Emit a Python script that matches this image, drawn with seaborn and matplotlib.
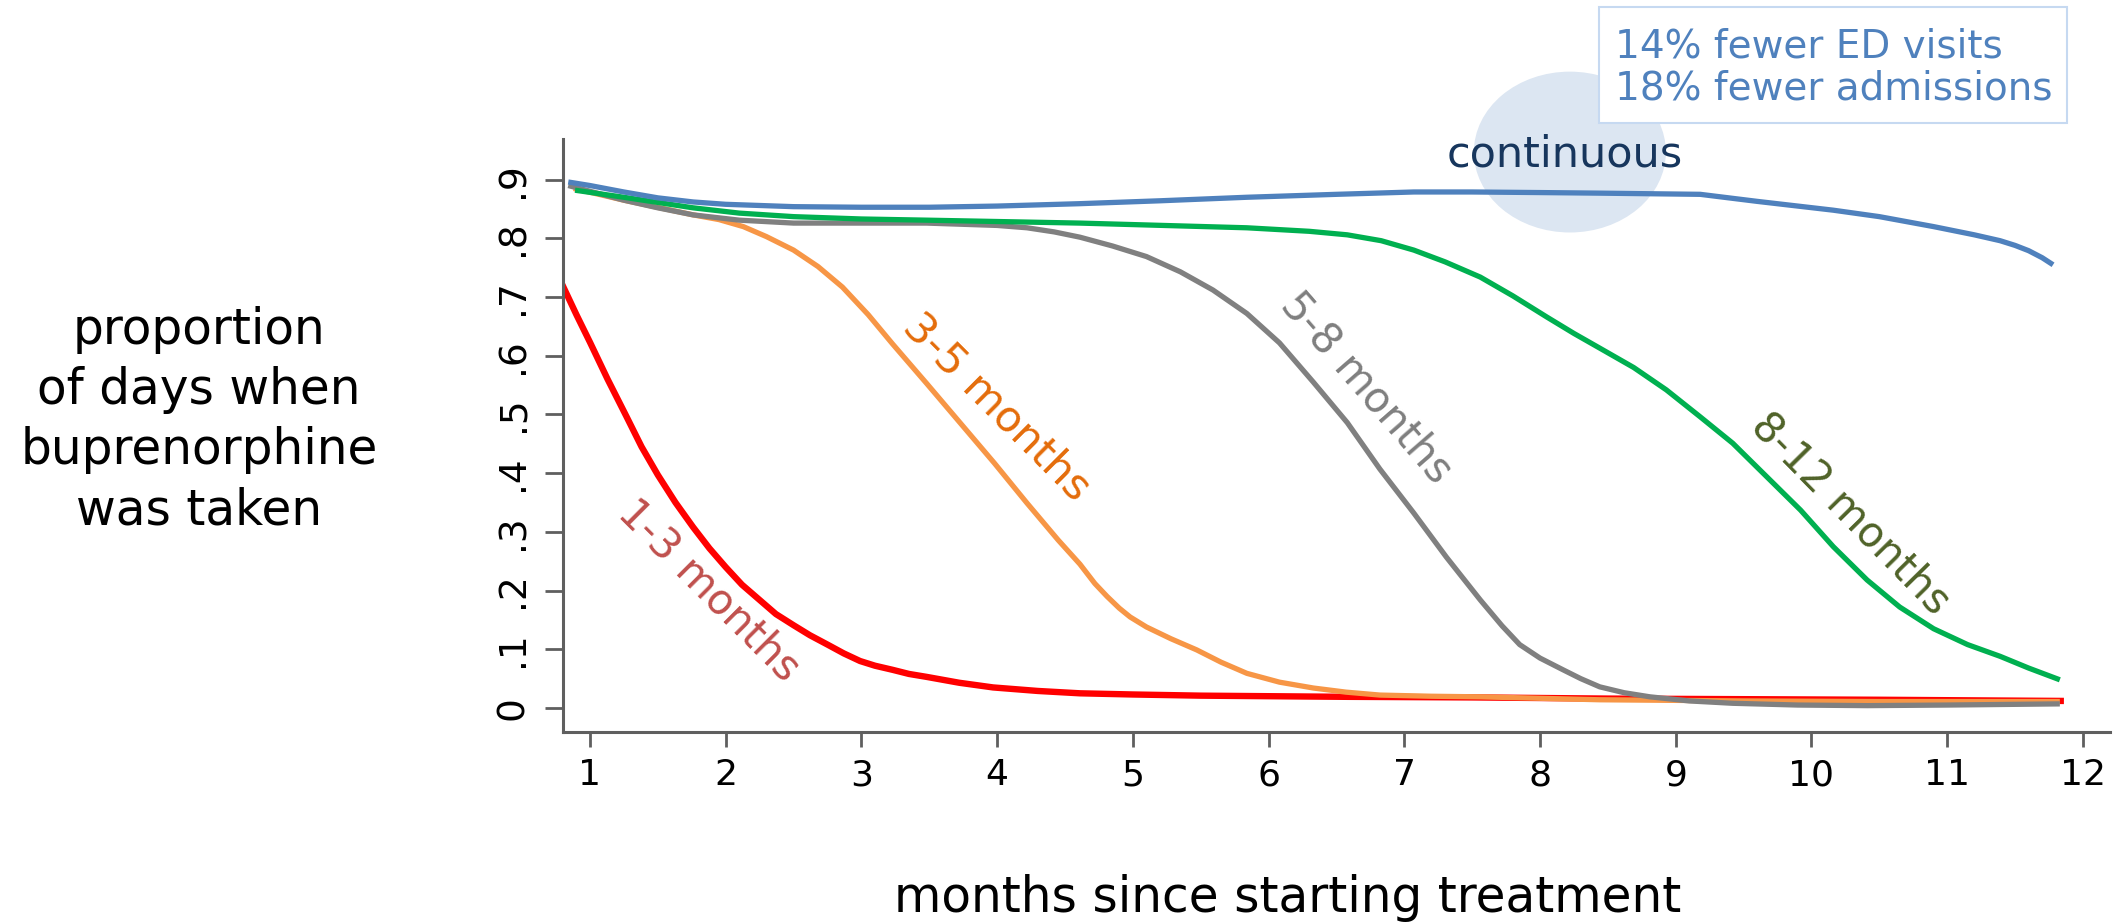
import numpy as np
import pandas as pd
import seaborn as sns
import matplotlib.pyplot as plt
from matplotlib.patches import Ellipse, Rectangle

# values (months since start, proportion of days)
cont_x = [0.84, 1.0, 1.25, 1.5, 1.76, 2.0, 2.5, 3.0, 3.5, 4.0, 4.6, 5.2, 5.84, 6.5, 7.07,
          7.5, 8.0, 8.44, 9.18, 9.6, 10.16, 10.5, 10.9, 11.2, 11.39, 11.5, 11.6, 11.7, 11.78]
cont_y = [0.896, 0.89, 0.879, 0.869, 0.862, 0.858, 0.854, 0.853, 0.853, 0.855, 0.859, 0.864,
          0.87, 0.875, 0.879, 0.879, 0.878, 0.877, 0.875, 0.863, 0.848, 0.837, 0.82, 0.806,
          0.796, 0.788, 0.779, 0.767, 0.755]

m8_12_x = [0.89, 1.25, 1.76, 2.1, 2.5, 3.0, 3.48, 4.61, 5.84, 6.3, 6.58, 6.83, 7.07, 7.3,
           7.56, 7.8, 8.05, 8.25, 8.44, 8.69, 8.93, 9.18, 9.42, 9.67, 9.92, 10.16, 10.41,
           10.65, 10.9, 11.15, 11.39, 11.6, 11.83]
m8_12_y = [0.882, 0.87, 0.852, 0.843, 0.837, 0.833, 0.831, 0.826, 0.818, 0.812, 0.806,
           0.796, 0.78, 0.76, 0.734, 0.702, 0.666, 0.638, 0.613, 0.58, 0.542, 0.496, 0.451,
           0.394, 0.337, 0.275, 0.218, 0.172, 0.135, 0.108, 0.088, 0.068, 0.048]

m5_8_x = [0.84, 1.25, 1.5, 1.76, 2.1, 2.5, 3.48, 4.0, 4.22, 4.42, 4.61, 4.85, 5.10, 5.35,
          5.59, 5.84, 6.08, 6.33, 6.58, 6.82, 7.07, 7.31, 7.56, 7.72, 7.85, 8.0, 8.17, 8.3,
          8.44, 8.62, 8.81, 9.1, 9.42, 9.9, 10.41, 11.0, 11.83]
m5_8_y = [0.89, 0.865, 0.852, 0.84, 0.831, 0.826, 0.826, 0.822, 0.818, 0.811, 0.802, 0.787,
          0.769, 0.743, 0.712, 0.672, 0.622, 0.555, 0.486, 0.407, 0.332, 0.257, 0.184, 0.14,
          0.108, 0.085, 0.065, 0.05, 0.036, 0.026, 0.019, 0.012, 0.008, 0.005, 0.004, 0.005,
          0.007]

m3_5_x = [0.88, 1.25, 1.76, 1.95, 2.13, 2.3, 2.5, 2.68, 2.86, 3.05, 3.23, 3.48, 3.73, 3.98,
          4.22, 4.45, 4.61, 4.72, 4.81, 4.9, 4.98, 5.10, 5.28, 5.47, 5.65, 5.84, 6.08, 6.33,
          6.57, 6.82, 7.2, 7.56, 8.44, 9.5, 10.5, 11.83]
m3_5_y = [0.885, 0.865, 0.84, 0.832, 0.82, 0.803, 0.78, 0.752, 0.717, 0.67, 0.62, 0.553,
          0.485, 0.417, 0.349, 0.286, 0.245, 0.212, 0.19, 0.17, 0.155, 0.138, 0.118, 0.099,
          0.078, 0.059, 0.044, 0.034, 0.027, 0.022, 0.02, 0.019, 0.014, 0.012, 0.011, 0.011]

m1_3_x = [0.78, 0.9, 1.0, 1.13, 1.27, 1.38, 1.5, 1.63, 1.76, 1.88, 2.0, 2.12, 2.25, 2.37,
          2.5, 2.62, 2.75, 2.87, 2.99, 3.1, 3.23, 3.35, 3.48, 3.72, 3.97, 4.3, 4.61, 5.0,
          5.5, 6.58, 7.5, 8.5, 9.5, 10.5, 11.86]
m1_3_y = [0.729, 0.67, 0.623, 0.56, 0.496, 0.445, 0.397, 0.35, 0.308, 0.272, 0.24, 0.21,
          0.184, 0.16, 0.141, 0.124, 0.108, 0.093, 0.08, 0.072, 0.065, 0.058, 0.053, 0.043,
          0.035, 0.029, 0.025, 0.023, 0.021, 0.019, 0.018, 0.016, 0.015, 0.014, 0.012]

groups = ['1-3 months', '3-5 months', '5-8 months', '8-12 months', 'continuous']
line_colors = ['#FF0000', '#F79646', '#808080', '#00B050', '#4F81BD']
label_colors = ['#C0504D', '#E46C0A', '#7F7F7F', '#4F6228', '#17365D']
xs = [m1_3_x, m3_5_x, m5_8_x, m8_12_x, cont_x]
ys = [m1_3_y, m3_5_y, m5_8_y, m8_12_y, cont_y]

x_ticks = list(range(1, 13))
y_ticks = [0, 0.1, 0.2, 0.3, 0.4, 0.5, 0.6, 0.7, 0.8, 0.9]
y_tick_labels = ['0', '.1', '.2', '.3', '.4', '.5', '.6', '.7', '.8', '.9']

df = pd.concat([pd.DataFrame({'month': x, 'prop': y, 'group': g})
                for g, x, y in zip(groups, xs, ys)], ignore_index=True)

sns.set_style('ticks')
plt.rcParams['font.family'] = ['DejaVu Sans']
plt.rcParams['text.color'] = 'black'

fig = plt.figure(figsize=(21.26, 9.24), dpi=100)
ax = fig.add_axes([0.2648, 0.2078, 0.7277, 0.6418])

# light highlight behind the continuous curve
ax.add_patch(Ellipse((8.22, 0.947), 1.415, 0.274, facecolor='#DCE6F2', edgecolor='none',
                     zorder=0, clip_on=False))

for g, c in zip(groups, line_colors):
    sub = df[df['group'] == g]
    sns.lineplot(data=sub, x='month', y='prop', color=c, sort=False, estimator=None,
                 linewidth=4.6 if g == '1-3 months' else 3.8, ax=ax, legend=False,
                 solid_capstyle='butt', solid_joinstyle='round', zorder=2)

ax.set_xlim(0.801, 12.2)
ax.set_ylim(-0.0409, 0.9693)
ax.set_xticks(x_ticks)
ax.set_xticklabels([str(t) for t in x_ticks])
ax.set_yticks(y_ticks)
ax.set_yticklabels(y_tick_labels)
ax.set_xlabel('')
ax.set_ylabel('')

sns.despine(ax=ax)
for side in ['left', 'bottom']:
    ax.spines[side].set_linewidth(2.2)
    ax.spines[side].set_color('#5f5f5f')
ax.tick_params(axis='x', length=11, width=2, color='#5f5f5f', labelsize=26, pad=8,
               labelcolor='black')
ax.tick_params(axis='y', length=13, width=2, color='#5f5f5f', labelsize=27, pad=10,
               labelcolor='black', labelrotation=90)
for lab in ax.get_yticklabels():
    lab.set_va('center')

# curve labels
ax.text(1.88, 0.201, '1-3 months', color=label_colors[0], fontsize=30, rotation=-45,
        ha='center', va='center', rotation_mode='anchor')
ax.text(4.0, 0.513, '3-5 months', color=label_colors[1], fontsize=31, rotation=-45,
        ha='center', va='center', rotation_mode='anchor')
ax.text(6.72, 0.545, '5-8 months', color=label_colors[2], fontsize=30, rotation=-49,
        ha='center', va='center', rotation_mode='anchor')
ax.text(10.29, 0.332, '8-12 months', color=label_colors[3], fontsize=30, rotation=-45.5,
        ha='center', va='center', rotation_mode='anchor')
ax.text(8.185, 0.9216, 'continuous', color=label_colors[4], fontsize=31,
        ha='center', va='baseline', clip_on=False, zorder=3)

# outcome box
fig.patches.append(Rectangle((0.7521, 0.8669), 0.2201, 0.1255, transform=fig.transFigure,
                             facecolor='white', edgecolor='#C6D9F1', linewidth=1.5))
fig.text(1615 / 2126, 1 - 57 / 924, '14% fewer ED visits', color='#4F81BD', fontsize=28,
         ha='left', va='baseline')
fig.text(1615 / 2126, 1 - 100 / 924, '18% fewer admissions', color='#4F81BD', fontsize=28,
         ha='left', va='baseline')

# axis titles
fig.text(199 / 2126, 1 - 420 / 924, 'proportion\nof days when\nbuprenorphine\nwas taken',
         ha='center', va='center', fontsize=35, linespacing=1.32, multialignment='center',
         color='black')
fig.text(1288 / 2126, 1 - 912 / 924, 'months since starting treatment', ha='center',
         va='baseline', fontsize=35, color='black')

fig.savefig('out.png', dpi=100)
